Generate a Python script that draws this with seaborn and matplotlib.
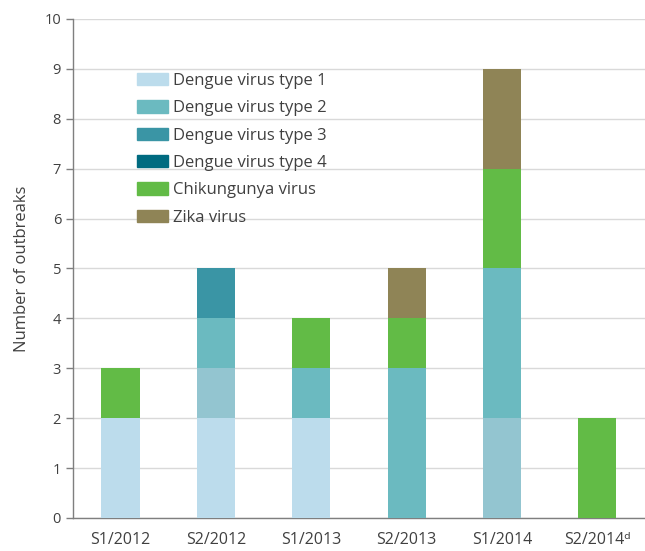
import numpy as np
import pandas as pd
import matplotlib
matplotlib.use('Agg')
import matplotlib.pyplot as plt
import matplotlib.patches as mpatches
import seaborn as sns

# Data (bottom to top in each bar)
periods = ['S1/2012', 'S2/2012', 'S1/2013', 'S2/2013', 'S1/2014', 'S2/2014ᵈ']
denv1 = [2, 2, 2, 0, 0, 0]
denv12 = [0, 1, 0, 0, 2, 0]   # unlabelled, greyish-blue segment
denv2 = [0, 1, 1, 3, 3, 0]
denv3 = [0, 1, 0, 0, 0, 0]
denv4 = [0, 0, 0, 0, 0, 0]
chik = [1, 0, 1, 1, 2, 2]
zika = [0, 0, 0, 1, 2, 0]

series = [('Dengue virus type 1', denv1, '#bcdcec'),
          (None, denv12, '#93c5d0'),
          ('Dengue virus type 2', denv2, '#6bbac0'),
          ('Dengue virus type 3', denv3, '#3a95a5'),
          ('Dengue virus type 4', denv4, '#006b80'),
          ('Chikungunya virus', chik, '#62bb46'),
          ('Zika virus', zika, '#8f8456')]

sns.set_style('white')
plt.rcParams['font.family'] = ['Open Sans', 'DejaVu Sans']
txt = '#404040'

fig = plt.figure(figsize=(6.45, 5.51), dpi=100)
ax = fig.add_axes([0.113, 0.06, 0.887, 0.9056])

df = pd.DataFrame({'period': periods})
cum = np.zeros(len(periods))
cums = []
for name, vals, col in series:
    cum = cum + np.array(vals)
    cums.append(cum.copy())

# overlay cumulative totals, tallest first
for (name, vals, col), c in reversed(list(zip(series, cums))):
    df['v'] = c
    sns.barplot(data=df, x='period', y='v', color=col, width=0.4,
                saturation=1, linewidth=0, ax=ax, zorder=3)

ax.set_ylim(0, 10)
ax.set_xlim(-0.5, 5.43)
ax.set_yticks(range(0, 11))
ax.yaxis.grid(True, color='#d9d9d9', linewidth=1, zorder=0)
ax.set_axisbelow(True)
for s in ['top', 'right']:
    ax.spines[s].set_visible(False)
for s in ['left', 'bottom']:
    ax.spines[s].set_color('#7f7f7f')
    ax.spines[s].set_linewidth(1)

ax.set_xticks(np.arange(len(periods)))
ax.set_xticklabels(periods)
ax.set_xticks(np.arange(-0.5, 6, 1), minor=True)
ax.tick_params(axis='x', which='major', length=0, pad=10, labelsize=11.5, labelcolor=txt)
ax.tick_params(axis='x', which='minor', length=5, width=1, color='#7f7f7f', direction='out')
ax.tick_params(axis='y', length=5, width=1, color='#7f7f7f', direction='out',
               labelsize=10.5, labelcolor=txt, left=True)
ax.set_xlabel('')
ax.set_ylabel('Number of outbreaks', fontsize=12, color=txt, labelpad=10)

handles = [mpatches.Patch(color=col, label=name) for name, vals, col in series if name]
ax.legend(handles=handles, loc='upper left', bbox_to_anchor=(0.1, 0.905), frameon=False,
          fontsize=12, labelcolor=txt, handlelength=1.9, handleheight=0.75,
          handletextpad=0.3, labelspacing=0.68, borderaxespad=0)

fig.savefig('out.png', dpi=100)
